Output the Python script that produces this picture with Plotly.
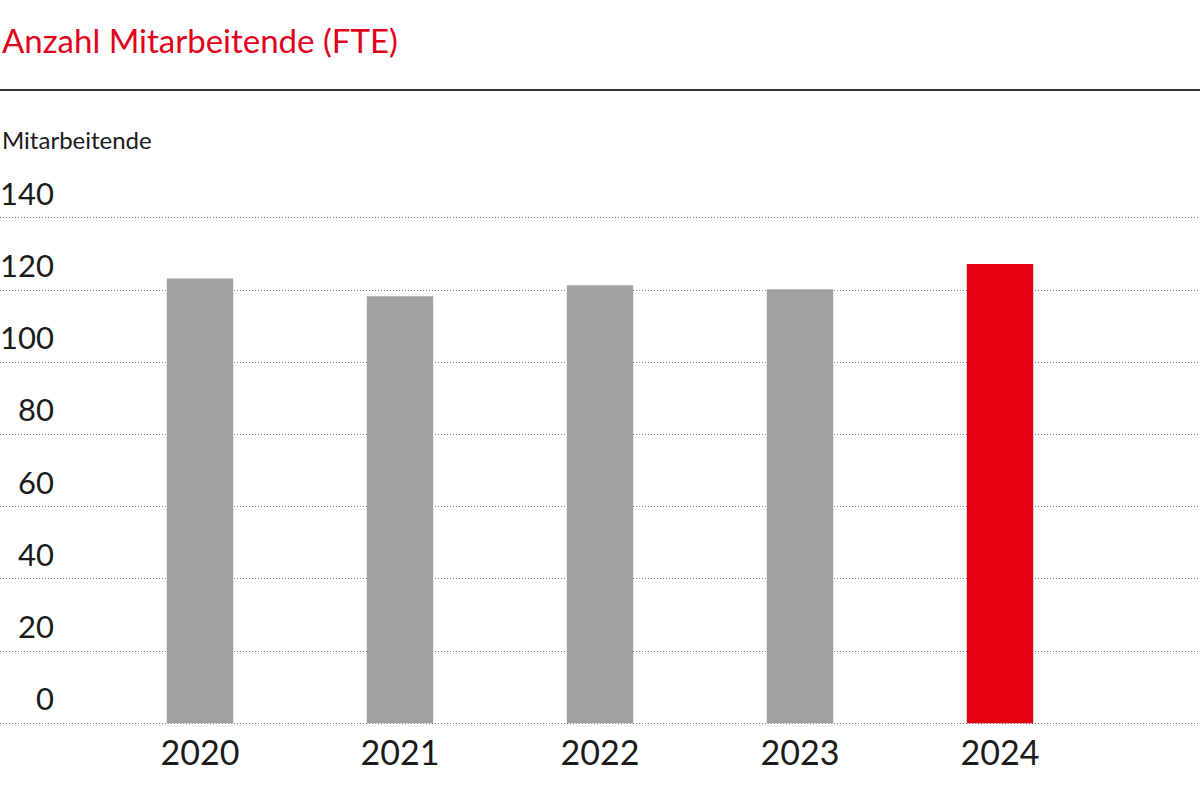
import plotly.graph_objects as go

years = ["2020", "2021", "2022", "2023", "2024"]
fte = [123.2, 118.3, 121.3, 120.2, 127.2]
bar_colors = ["#a0a0a0", "#a0a0a0", "#a0a0a0", "#a0a0a0", "#e3000f"]
y_ticks = [0, 20, 40, 60, 80, 100, 120, 140]

title_text = "Anzahl Mitarbeitende (FTE)"
unit_text = "Mitarbeitende"

FONT = "Lato"
W, H = 1200, 800
px_per_unit = (722.7 - 217.7) / 140.0
pad_units = 0.5
top_px = 217.7 - pad_units * px_per_unit
bottom_px = 722.7 + pad_units * px_per_unit
plot_h = bottom_px - top_px

def paper_y(px):
    return (bottom_px - px) / plot_h

fig = go.Figure()
fig.add_trace(go.Bar(
    x=years, y=fte, marker=dict(color=bar_colors, line=dict(width=0)),
    width=0.332, hoverinfo="x+y"
))

annotations = []
for v in y_ticks:
    annotations.append(dict(
        x=56 / W, xref="paper", xanchor="right",
        y=v, yref="y", yanchor="middle", yshift=25,
        text=str(v), showarrow=False,
        font=dict(family=FONT, size=31, color="#1a1a1a")
    ))
annotations.append(dict(
    x=0.0, xref="paper", xanchor="left", xshift=0,
    y=paper_y(40), yref="paper", yanchor="middle",
    text=title_text, showarrow=False,
    font=dict(family=FONT, size=33, color="#e2001a")
))
annotations.append(dict(
    x=0.0, xref="paper", xanchor="left", xshift=0,
    y=paper_y(139), yref="paper", yanchor="middle",
    text=unit_text, showarrow=False,
    font=dict(family=FONT, size=24, color="#1a1a1a")
))

fig.update_layout(
    width=W, height=H,
    margin=dict(l=0, r=0, t=top_px, b=H - bottom_px, pad=0),
    paper_bgcolor="white", plot_bgcolor="white",
    showlegend=False,
    bargap=0.668,
    annotations=annotations,
    shapes=[dict(type="line", xref="paper", yref="paper",
                 x0=0, x1=1, y0=paper_y(90), y1=paper_y(90),
                 line=dict(color="#333333", width=2))],
    xaxis=dict(
        type="category", range=[-1, 5],
        showgrid=False, zeroline=False, showline=False,
        ticks="", tickfont=dict(family=FONT, size=34, color="#1a1a1a"),
        ticklabelstandoff=5,
        fixedrange=True,
    ),
    yaxis=dict(
        range=[-pad_units, 140 + pad_units], tickvals=y_ticks, showticklabels=False,
        showgrid=True, gridcolor="#777777", gridwidth=1, griddash="1px,2px",
        zeroline=False, showline=False, ticks="",
        fixedrange=True,
    ),
)

fig.write_html("out.html", config={"displayModeBar": False},
               post_script="document.body.style.margin='0';")
